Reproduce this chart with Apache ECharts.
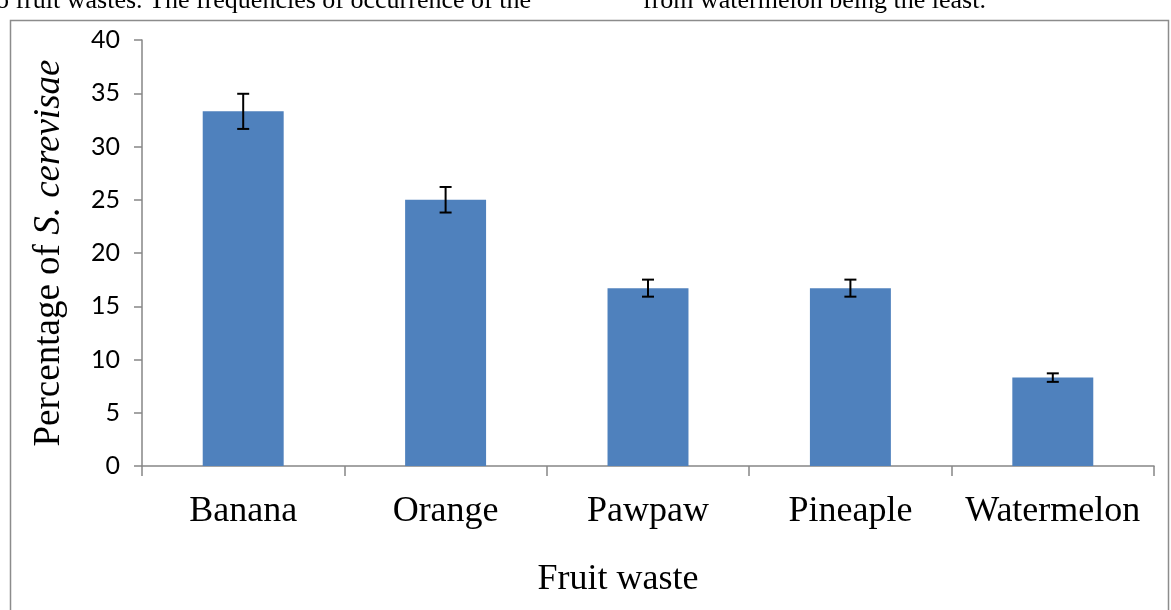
<!DOCTYPE html>
<html><head><meta charset="utf-8">
<script src="https://cdn.jsdelivr.net/npm/echarts@6/dist/echarts.min.js"></script>
<style>html,body{margin:0;padding:0;background:#fff}#c{width:1171px;height:610px}</style>
</head><body><div id="c"></div>
<script>
const categories = ['Banana', 'Orange', 'Pawpaw', 'Pineaple', 'Watermelon'];
const values = [33.3, 25.0, 16.7, 16.7, 8.3];
const errors = [1.65, 1.2, 0.8, 0.8, 0.4];
const yTicks = [0, 5, 10, 15, 20, 25, 30, 35, 40];

const chart = echarts.init(document.getElementById('c'));
chart.setOption({
  animation: false,
  backgroundColor: '#fff',
  graphic: [
    { type: 'rect', shape: { x: 10.5, y: 20.5, width: 1158, height: 620 }, style: { fill: 'none', stroke: '#8c8c8c', lineWidth: 1.5 } },
    { type: 'text', left: -4, top: -12, style: { text: 'o fruit wastes. The frequencies of occurrence of the', font: '26px "Liberation Serif"', fill: '#000' } },
    { type: 'text', left: 643, top: -12, style: { text: 'from watermelon being the least.', font: '26px "Liberation Serif"', fill: '#000' } }
  ],
  grid: { left: 142, right: 17, top: 40, bottom: 144, containLabel: false, outerBoundsMode: 'none' },
  xAxis: {
    type: 'category', data: categories,
    name: 'Fruit waste', nameLocation: 'middle', nameGap: 96,
    nameTextStyle: { fontFamily: 'Liberation Serif', fontSize: 36, color: '#000', padding: [0, 60, 0, 0] },
    axisLine: { lineStyle: { color: '#868686', width: 1.5 } },
    axisTick: { show: true, interval: 0, length: 10, lineStyle: { color: '#868686', width: 1.5 } },
    axisLabel: { interval: 0, hideOverlap: false, fontFamily: 'Liberation Serif', fontSize: 36, color: '#000', margin: 28 }
  },
  yAxis: {
    type: 'value', min: 0, max: 40, interval: 5,
    name: '{a|Percentage of }{b|S. cerevisae}', nameLocation: 'middle', nameGap: 74, nameRotate: 90,
    nameTextStyle: {
      rich: {
        a: { fontFamily: 'Liberation Serif', fontSize: 37, color: '#000' },
        b: { fontFamily: 'Liberation Serif', fontSize: 37, fontStyle: 'italic', color: '#000' }
      }
    },
    splitLine: { show: false },
    axisLine: { show: true, lineStyle: { color: '#868686', width: 1.5 } },
    axisTick: { show: true, length: 8, lineStyle: { color: '#868686', width: 1.5 } },
    axisLabel: { fontFamily: 'Lato', fontSize: 25, color: '#000', margin: 22,
      formatter: v => yTicks.includes(v) ? String(v) : '' }
  },
  series: [
    {
      type: 'bar', data: values, barCategoryGap: '60%',
      itemStyle: { color: '#4f81bd' }
    },
    {
      type: 'custom', z: 10,
      data: values.map((v, i) => [i, v - errors[i], v + errors[i]]),
      renderItem: function (params, api) {
        const x = api.value(0);
        const lo = api.coord([x, api.value(1)]);
        const hi = api.coord([x, api.value(2)]);
        const hw = 6;
        const st = { stroke: '#000', lineWidth: 2 };
        return { type: 'group', children: [
          { type: 'line', shape: { x1: hi[0], y1: hi[1], x2: lo[0], y2: lo[1] }, style: st },
          { type: 'line', shape: { x1: hi[0] - hw, y1: hi[1], x2: hi[0] + hw, y2: hi[1] }, style: st },
          { type: 'line', shape: { x1: lo[0] - hw, y1: lo[1], x2: lo[0] + hw, y2: lo[1] }, style: st }
        ]};
      }
    }
  ]
});
</script></body></html>
